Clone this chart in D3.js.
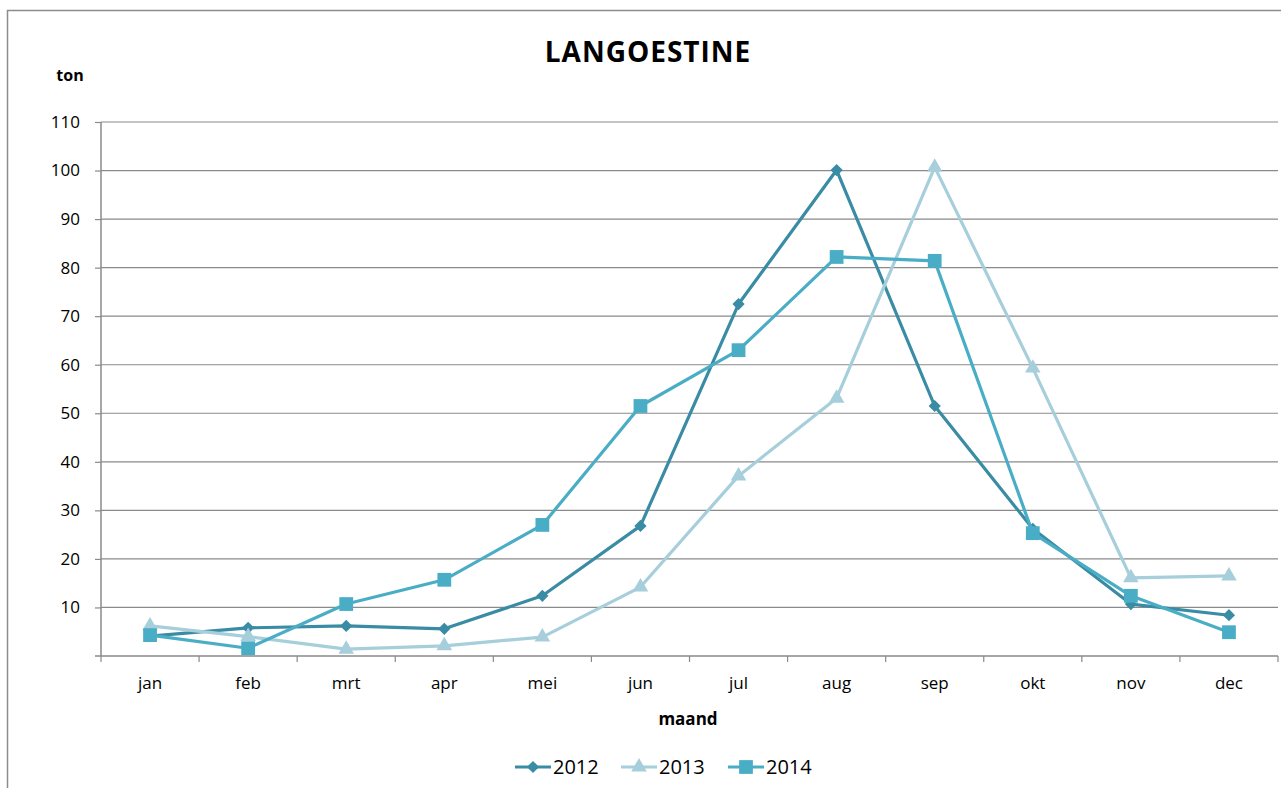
<!DOCTYPE html>
<html><head><meta charset="utf-8">
<script src="https://cdn.jsdelivr.net/npm/d3@7"></script>
<style>body{margin:0;background:#fff}svg{display:block}</style>
</head><body>
<script>
const months = ["jan","feb","mrt","apr","mei","jun","jul","aug","sep","okt","nov","dec"];
const v2012 = [4.1,5.8,6.2,5.6,12.4,26.8,72.5,100.1,51.5,26.2,10.7,8.4];
const v2013 = [6.2,4.0,1.4,2.1,3.9,14.2,37.1,53.1,100.7,59.3,16.1,16.5];
const v2014 = [4.3,1.6,10.7,15.7,27.0,51.5,63.0,82.2,81.4,25.3,12.4,4.9];
const yTicks = [10,20,30,40,50,60,70,80,90,100,110];
const seriesNames = ["2012","2013","2014"];
const seriesColors = ["#3A8CA4","#A6CEDB","#4AADC6"];
const seriesShapes = ["diamond","triangle","square"];
const series = [v2012,v2013,v2014];

const W=1281,H=788;
const svg=d3.select("body").append("svg").attr("width",W).attr("height",H);
const font="'Open Sans', 'Liberation Sans', sans-serif";
svg.append("rect").attr("x",7.5).attr("y",10.5).attr("width",W+20).attr("height",H+20).attr("fill","none").attr("stroke","#8c8c8c").attr("stroke-width",1.5);

const L=101,R=1278,T=122,B=656;
const x=d3.scaleBand().domain(months).range([L,R]);
const y=d3.scaleLinear().domain([0,110]).range([B,T]);

const g=svg.append("g");
g.selectAll("line.grid").data(yTicks).join("line")
 .attr("x1",L).attr("x2",R).attr("y1",d=>y(d)).attr("y2",d=>y(d))
 .attr("stroke","#8a8a8a").attr("stroke-width",1.2);
const ya=svg.append("g").attr("transform",`translate(${L},0)`)
 .call(d3.axisLeft(y).tickValues(yTicks).tickSize(6).tickPadding(15));
ya.select(".domain").attr("stroke","#8a8a8a").attr("stroke-width",1.5).attr("d",`M-6,${B}H0V${T}`);
ya.selectAll(".tick line").attr("stroke","#8a8a8a").attr("stroke-width",1.2);
ya.selectAll("text").attr("font-family",font).attr("font-size",17).attr("fill","#000");
const xa=svg.append("g").attr("transform",`translate(0,${B})`)
 .call(d3.axisBottom(x).tickSize(0).tickPadding(21));
xa.select(".domain").attr("stroke","#8a8a8a").attr("stroke-width",1.5).attr("d",`M${L},0H${R}`);
xa.selectAll("text").attr("font-family",font).attr("font-size",17).attr("fill","#000");
const bounds=months.map(m=>x(m)).concat([R]);
xa.selectAll("line.xt").data(bounds).join("line").attr("class","xt")
 .attr("x1",d=>d).attr("x2",d=>d).attr("y1",0).attr("y2",6)
 .attr("stroke","#8a8a8a").attr("stroke-width",1.2);

const cx=m=>x(m)+x.bandwidth()/2;
const line=d3.line().x((d,i)=>cx(months[i])).y(d=>y(d));
function sym(shape){
  if(shape==="diamond") return d3.symbol().type(d3.symbolDiamond2).size(95)();
  if(shape==="triangle") return d3.symbol().type(d3.symbolTriangle).size(105)();
  return d3.symbol().type(d3.symbolSquare).size(190)();
}
series.forEach((s,k)=>{
  g.append("path").datum(s).attr("d",line).attr("fill","none")
   .attr("stroke",seriesColors[k]).attr("stroke-width",3.2).attr("stroke-linejoin","round");
  g.selectAll(null).data(s).join("path")
   .attr("transform",(d,i)=>`translate(${cx(months[i])},${y(d)})`)
   .attr("d",sym(seriesShapes[k])).attr("fill",seriesColors[k]);
});

svg.append("text").attr("x",648).attr("y",62).attr("text-anchor","middle").attr("letter-spacing",1)
 .attr("font-family",font).attr("font-weight","bold").attr("font-size",28).text("LANGOESTINE");
svg.append("text").attr("x",70).attr("y",81).attr("text-anchor","middle")
 .attr("font-family",font).attr("font-weight","bold").attr("font-size",16).text("ton");
svg.append("text").attr("x",688).attr("y",725).attr("text-anchor","middle")
 .attr("font-family",font).attr("font-weight","bold").attr("font-size",17).text("maand");

const lx=[515,621,728];
seriesNames.forEach((n,k)=>{
  const lg=svg.append("g").attr("transform",`translate(${lx[k]},767)`);
  lg.append("line").attr("x1",0).attr("x2",36).attr("stroke",seriesColors[k]).attr("stroke-width",3.2);
  lg.append("path").attr("transform",`translate(18,0)`)
   .attr("d",sym(seriesShapes[k])).attr("fill",seriesColors[k]);
  lg.append("text").attr("x",38).attr("y",7).attr("font-family",font).attr("font-size",20).text(n);
});
</script>
</body></html>
